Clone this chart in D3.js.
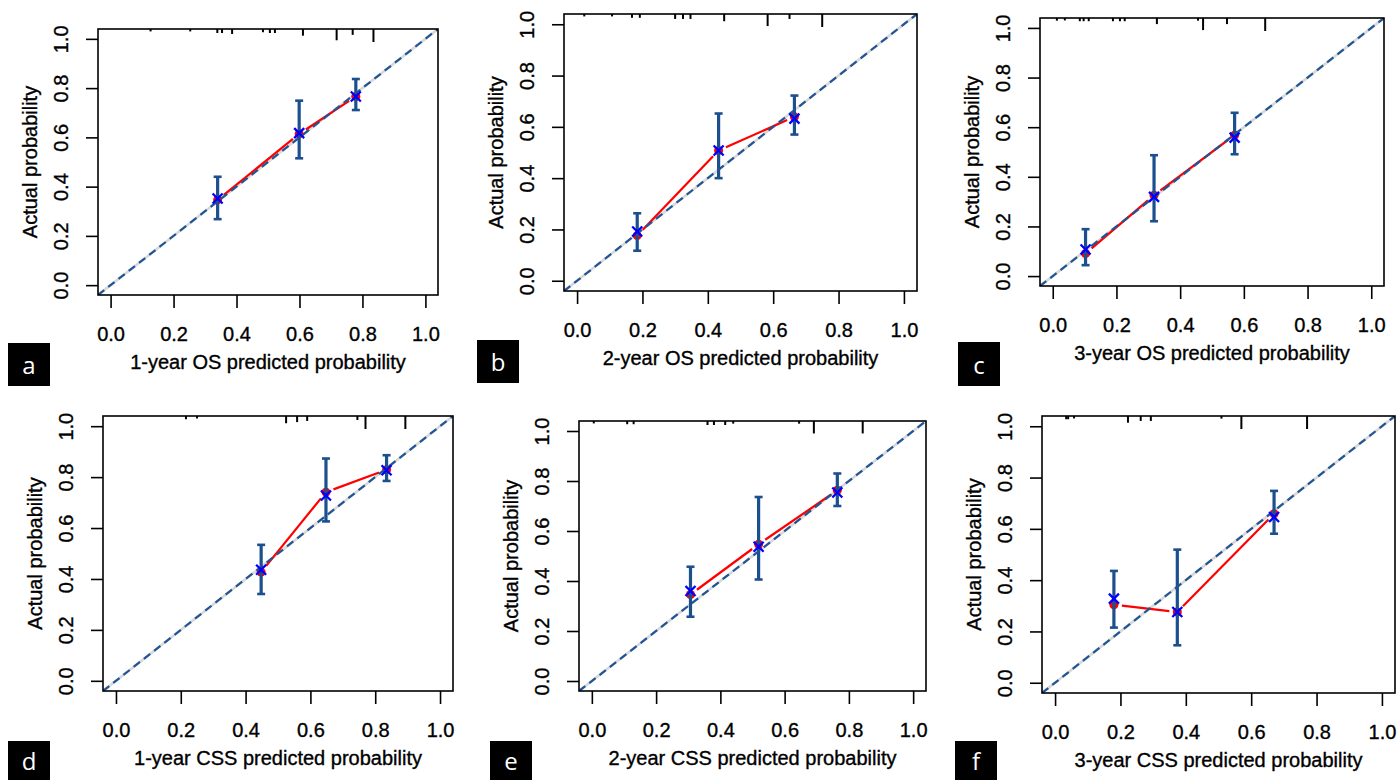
<!DOCTYPE html>
<html>
<head>
<meta charset="utf-8">
<script src="https://cdn.jsdelivr.net/npm/d3@7"></script>
<style>
  html, body { margin: 0; padding: 0; background: #ffffff; }
  svg { display: block; }
  .lbl { font-family: "Liberation Sans", Arial, Helvetica, sans-serif; font-size: 20px; fill: #000; stroke: #000; stroke-width: 0.35px; }
  .tag { font-family: "Open Sans", "Noto Sans", sans-serif; font-size: 24px; fill: #fff; }
</style>
</head>
<body>
<svg id="chart" width="1397" height="780"></svg>
<script>
// ---------------- data ----------------
const panelIds = ["a", "b", "c", "d", "e", "f"];
const xLabels = [
  "1-year OS predicted probability",
  "2-year OS predicted probability",
  "3-year OS predicted probability",
  "1-year CSS predicted probability",
  "2-year CSS predicted probability",
  "3-year CSS predicted probability"
];
const yLabel = "Actual probability";
const tickValues = [0, 0.2, 0.4, 0.6, 0.8, 1.0];
const tickLabels = ["0.0", "0.2", "0.4", "0.6", "0.8", "1.0"];

// mean predicted probability per group
const predicted = [
  [0.340, 0.599, 0.779],
  [0.184, 0.433, 0.665],
  [0.103, 0.318, 0.571],
  [0.448, 0.648, 0.835],
  [0.307, 0.519, 0.764],
  [0.180, 0.374, 0.670]
];
// observed (apparent) - red dots & line
const observed = [
  [0.346, 0.614, 0.766],
  [0.176, 0.508, 0.639],
  [0.091, 0.326, 0.568],
  [0.427, 0.741, 0.829],
  [0.346, 0.547, 0.763],
  [0.304, 0.276, 0.659]
];
// bias-corrected - blue X
const corrected = [
  [0.352, 0.617, 0.766],
  [0.192, 0.508, 0.632],
  [0.107, 0.319, 0.558],
  [0.436, 0.728, 0.827],
  [0.360, 0.537, 0.754],
  [0.328, 0.276, 0.646]
];
const ciLower = [
  [0.268, 0.515, 0.711],
  [0.117, 0.400, 0.570],
  [0.044, 0.221, 0.491],
  [0.341, 0.626, 0.785],
  [0.257, 0.406, 0.700],
  [0.215, 0.146, 0.581]
];
const ciUpper = [
  [0.440, 0.749, 0.837],
  [0.263, 0.652, 0.722],
  [0.189, 0.487, 0.658],
  [0.534, 0.873, 0.886],
  [0.457, 0.736, 0.830],
  [0.436, 0.519, 0.748]
];
// rug (distribution of predictions) along the top: values and relative frequency
const rugValues = [
  [0.127, 0.253, 0.339, 0.354, 0.386, 0.484, 0.506, 0.522, 0.611, 0.718, 0.769, 0.835],
  [0.022, 0.107, 0.168, 0.192, 0.300, 0.324, 0.347, 0.450, 0.583, 0.650, 0.750],
  [0.013, 0.038, 0.085, 0.097, 0.113, 0.189, 0.211, 0.226, 0.327, 0.456, 0.472, 0.547, 0.667],
  [0.216, 0.250, 0.525, 0.559, 0.590, 0.745, 0.770, 0.893],
  [0.006, 0.110, 0.130, 0.360, 0.380, 0.415, 0.440, 0.645, 0.691, 0.843],
  [0.034, 0.040, 0.058, 0.223, 0.262, 0.293, 0.509, 0.570, 0.771]
];
const rugFreq = [
  [0.08, 0.08, 0.22, 0.22, 0.3, 0.15, 0.22, 0.22, 0.45, 0.85, 0.38, 1.0],
  [0.08, 0.08, 0.2, 0.2, 0.3, 0.3, 0.3, 0.5, 0.92, 0.3, 1.0],
  [0.1, 0.08, 0.15, 0.15, 0.15, 0.15, 0.15, 0.15, 0.4, 0.1, 0.92, 0.4, 1.0],
  [0.15, 0.08, 0.5, 0.4, 0.3, 0.22, 1.0, 1.0],
  [0.08, 0.15, 0.15, 0.22, 0.22, 0.22, 0.1, 0.1, 0.95, 0.95],
  [0.15, 0.15, 0.08, 0.45, 0.3, 0.3, 0.1, 1.0, 1.0]
];

// ---------------- layout ----------------
const boxes = [
  { L: 98,   R: 438,  T: 29,  B: 295 },
  { L: 564,  R: 917,  T: 14,  B: 291 },
  { L: 1040, R: 1384, T: 18,  B: 286 },
  { L: 103,  R: 453,  T: 416, B: 691 },
  { L: 579,  R: 926,  T: 421, B: 691 },
  { L: 1042, R: 1395, T: 416, B: 693 }
];
const tagBoxes = [
  { x: 8,   y: 343, w: 42, h: 43 },
  { x: 477, y: 340, w: 42, h: 43 },
  { x: 958, y: 342, w: 42, h: 44 },
  { x: 8,   y: 741, w: 42, h: 39 },
  { x: 490, y: 741, w: 42, h: 39 },
  { x: 955, y: 741, w: 42, h: 39 }
];

const svg = d3.select("#chart");
svg.append("rect").attr("width", 1397).attr("height", 780).attr("fill", "#fff");

const barColor = "#1c4f8d";
const dashColor = "#1f5597";
const rugLen = d3.scaleLinear().domain([0, 1]).range([1.5, 13]);

panelIds.forEach((id, i) => {
  const bx = boxes[i];
  const x = d3.scaleLinear().domain([-0.04, 1.04]).range([bx.L, bx.R]);
  const y = d3.scaleLinear().domain([-0.04, 1.04]).range([bx.B, bx.T]);
  const g = svg.append("g");

  const clipId = "clip-" + id;
  svg.append("clipPath").attr("id", clipId)
    .append("rect").attr("x", bx.L).attr("y", bx.T)
    .attr("width", bx.R - bx.L).attr("height", bx.B - bx.T);
  const inner = g.append("g").attr("clip-path", `url(#${clipId})`);

  // ideal reference line (light gray, solid)
  inner.append("line")
    .attr("x1", x(-0.04)).attr("y1", y(-0.04))
    .attr("x2", x(1.04)).attr("y2", y(1.04))
    .attr("stroke", "#d8d8d8").attr("stroke-width", 2.6);

  const pts = predicted[i].map((p, k) => ({
    p, obs: observed[i][k], cor: corrected[i][k], lo: ciLower[i][k], hi: ciUpper[i][k]
  }));

  // red observed line with gaps around points (type "b")
  const gap = 8;
  for (let k = 0; k < pts.length - 1; k++) {
    const x1 = x(pts[k].p), y1 = y(pts[k].obs);
    const x2 = x(pts[k + 1].p), y2 = y(pts[k + 1].obs);
    const d = Math.hypot(x2 - x1, y2 - y1);
    const ux = (x2 - x1) / d, uy = (y2 - y1) / d;
    inner.append("line")
      .attr("x1", x1 + ux * gap).attr("y1", y1 + uy * gap)
      .attr("x2", x2 - ux * gap).attr("y2", y2 - uy * gap)
      .attr("stroke", "#ff0000").attr("stroke-width", 2.2);
  }
  inner.selectAll("circle.obs").data(pts).enter().append("circle")
    .attr("class", "obs")
    .attr("cx", d => x(d.p)).attr("cy", d => y(d.obs)).attr("r", 4.5)
    .attr("fill", "#ff0000");

  // error bars
  const eb = inner.selectAll("g.eb").data(pts).enter().append("g").attr("class", "eb");
  eb.append("line")
    .attr("x1", d => x(d.p)).attr("x2", d => x(d.p))
    .attr("y1", d => y(d.lo)).attr("y2", d => y(d.hi))
    .attr("stroke", barColor).attr("stroke-width", 3.2);
  eb.append("line")
    .attr("x1", d => x(d.p) - 4).attr("x2", d => x(d.p) + 4)
    .attr("y1", d => y(d.lo)).attr("y2", d => y(d.lo))
    .attr("stroke", barColor).attr("stroke-width", 2.6);
  eb.append("line")
    .attr("x1", d => x(d.p) - 4).attr("x2", d => x(d.p) + 4)
    .attr("y1", d => y(d.hi)).attr("y2", d => y(d.hi))
    .attr("stroke", barColor).attr("stroke-width", 2.6);

  // dashed diagonal
  inner.append("line")
    .attr("x1", x(-0.04)).attr("y1", y(-0.04))
    .attr("x2", x(1.04)).attr("y2", y(1.04))
    .attr("stroke", dashColor).attr("stroke-width", 2.2)
    .attr("stroke-dasharray", "8,5");

  // blue X (bias corrected)
  const s = 5;
  const xm = inner.selectAll("g.cor").data(pts).enter().append("g").attr("class", "cor");
  xm.append("line")
    .attr("x1", d => x(d.p) - s).attr("y1", d => y(d.cor) - s)
    .attr("x2", d => x(d.p) + s).attr("y2", d => y(d.cor) + s)
    .attr("stroke", "#0000ff").attr("stroke-width", 2.3);
  xm.append("line")
    .attr("x1", d => x(d.p) - s).attr("y1", d => y(d.cor) + s)
    .attr("x2", d => x(d.p) + s).attr("y2", d => y(d.cor) - s)
    .attr("stroke", "#0000ff").attr("stroke-width", 2.3);

  // rug along top
  const rug = rugValues[i].map((v, k) => ({ v, f: rugFreq[i][k] }));
  const rugG = g.append("g").attr("class", "rug");
  rugG.selectAll("path").data(rug).enter().append("path")
    .attr("d", d => `M${x(d.v)},${bx.T}V${bx.T + rugLen(d.f)}`)
    .attr("fill", "none")
    .attr("stroke", "#000").attr("stroke-width", 2);

  // box
  g.append("rect")
    .attr("x", bx.L).attr("y", bx.T)
    .attr("width", bx.R - bx.L).attr("height", bx.B - bx.T)
    .attr("fill", "none").attr("stroke", "#000").attr("stroke-width", 1.6);

  // x axis
  const xa = g.append("g").attr("transform", `translate(0,${bx.B})`)
    .call(d3.axisBottom(x).tickValues(tickValues)
      .tickFormat((d, k) => tickLabels[k]).tickSize(13).tickPadding(19));
  xa.select(".domain").remove();
  xa.selectAll(".tick line").attr("stroke", "#000").attr("stroke-width", 1.6);
  xa.selectAll(".tick text").attr("class", "lbl");
  xa.attr("font-size", null).attr("font-family", null);

  // y axis
  const ya = g.append("g").attr("transform", `translate(${bx.L},0)`)
    .call(d3.axisLeft(y).tickValues(tickValues)
      .tickFormat((d, k) => tickLabels[k]).tickSize(12));
  ya.select(".domain").remove();
  ya.selectAll(".tick line").attr("stroke", "#000").attr("stroke-width", 1.6);
  ya.attr("font-size", null).attr("font-family", null);
  ya.selectAll(".tick text")
    .attr("class", "lbl")
    .attr("x", null).attr("dy", null)
    .attr("text-anchor", "middle")
    .attr("transform", "translate(-30,0) rotate(-90)");

  // axis titles
  g.append("text").attr("class", "lbl")
    .attr("text-anchor", "middle")
    .attr("transform", `translate(${bx.L - 61},${(bx.T + bx.B) / 2}) rotate(-90)`)
    .text(yLabel);
  g.append("text").attr("class", "lbl")
    .attr("text-anchor", "middle")
    .attr("x", (bx.L + bx.R) / 2).attr("y", bx.B + 74)
    .text(xLabels[i]);

  // panel tag
  const tb = tagBoxes[i];
  svg.append("rect").attr("x", tb.x).attr("y", tb.y).attr("width", tb.w).attr("height", tb.h)
    .attr("fill", "#000");
  svg.append("text").attr("class", "tag")
    .attr("x", tb.x + tb.w / 2).attr("y", tb.y + tb.h / 2)
    .attr("text-anchor", "middle").attr("dominant-baseline", "central")
    .text(id);
});
</script>
</body>
</html>
